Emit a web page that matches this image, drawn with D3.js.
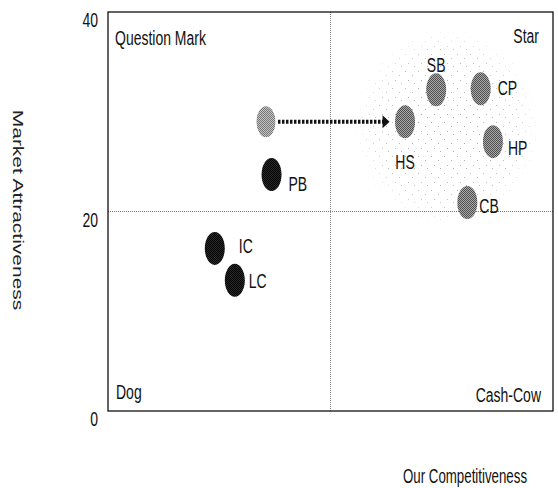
<!DOCTYPE html>
<html>
<head>
<meta charset="utf-8">
<script src="https://cdn.jsdelivr.net/npm/d3@7"></script>
<style>
  body { margin: 0; background: #fff; }
  text { font-family: "Liberation Sans", Arial, sans-serif; fill: #111; }
</style>
</head>
<body>
<script>
//==============================================================================
// DATA
//==============================================================================

const names = ['HS', 'SB', 'CP', 'HP', 'CB', 'PB', 'IC', 'LC'];
const competitiveness = [26.7, 29.5, 33.5, 34.6, 32.3, 14.7, 9.6, 11.4];
const attractiveness = [29.0, 32.2, 32.3, 27.0, 20.9, 23.7, 16.3, 13.1];
const groups = ['star', 'star', 'star', 'star', 'star', 'question', 'dog', 'dog'];

// previous position of HS (start of the arrow)
const moveFrom = [14.2, 29.0];
const moveTo = 'HS';

const quadrantLabels = ['Question Mark', 'Star', 'Dog', 'Cash-Cow'];
const yTicks = [0, 20, 40];
const xTitle = 'Our Competitiveness';
const yTitle = 'Market Attractiveness';

//==============================================================================
// PARAMETERS
//==============================================================================

const W = 558, H = 488;
const plot = { left: 108, right: 553, top: 12, bottom: 411 };
const stretch = 1.5; // glyphs in the picture are tall and narrow

const x = d3.scaleLinear().domain([0, 40]).range([plot.left, plot.right]);
const y = d3.scaleLinear().domain([0, 40]).range([plot.bottom, plot.top]);

// label placement next to each bubble
const labelPos = {
  HS: { dx: 0, dy: 47, anchor: 'middle' },
  SB: { dx: 0, dy: -18, anchor: 'middle' },
  CP: { dx: 17, dy: 6, anchor: 'start' },
  HP: { dx: 15, dy: 13, anchor: 'start' },
  CB: { dx: 12, dy: 10, anchor: 'start' },
  PB: { dx: 17, dy: 16, anchor: 'start' },
  IC: { dx: 24, dy: 5, anchor: 'start' },
  LC: { dx: 14, dy: 8, anchor: 'start' }
};

const data = names.map((n, i) => ({
  name: n, cx: competitiveness[i], cy: attractiveness[i], group: groups[i]
}));

const svg = d3.select('body').append('svg')
  .attr('width', W)
  .attr('height', H);

// stippled fills
const defs = svg.append('defs');
function checker(id, a, b) {
  const p = defs.append('pattern')
    .attr('id', id).attr('width', 2).attr('height', 2)
    .attr('patternUnits', 'userSpaceOnUse');
  p.append('rect').attr('width', 2).attr('height', 2).attr('fill', b);
  p.append('rect').attr('width', 1).attr('height', 1).attr('fill', a);
  p.append('rect').attr('x', 1).attr('y', 1).attr('width', 1).attr('height', 1).attr('fill', a);
}
checker('fillStar', '#4e4e4e', '#aaaaaa');
checker('fillOld', '#777', '#c4c4c4');
checker('fillDark', '#000', '#2a2a2a');

// faint dotted cloud round the star group
const cloud = defs.append('pattern')
  .attr('id', 'cloudDots').attr('width', 13).attr('height', 17)
  .attr('patternUnits', 'userSpaceOnUse');
[[2, 3], [9, 7], [5, 12], [11, 15]].forEach(([px, py]) => {
  cloud.append('rect').attr('x', px).attr('y', py).attr('width', 1).attr('height', 1).attr('fill', '#9a9a9a');
});

const grad = defs.append('radialGradient').attr('id', 'cloudFade');
grad.append('stop').attr('offset', '0%').attr('stop-color', '#fff').attr('stop-opacity', 0.9);
grad.append('stop').attr('offset', '75%').attr('stop-color', '#fff').attr('stop-opacity', 0.6);
grad.append('stop').attr('offset', '100%').attr('stop-color', '#fff').attr('stop-opacity', 0);
defs.append('mask').attr('id', 'cloudMask')
  .append('ellipse')
  .attr('cx', x(30.5)).attr('cy', y(28.5))
  .attr('rx', 95).attr('ry', 100)
  .attr('fill', 'url(#cloudFade)');

function stretchedText(sel, px, py, str, anchor, size) {
  return sel.append('text')
    .attr('transform', `translate(${px},${py}) scale(1,${stretch})`)
    .attr('text-anchor', anchor)
    .style('font-size', size + 'px')
    .text(str);
}

//==============================================================================
// DRAW
//==============================================================================

// cloud
svg.append('rect')
  .attr('x', plot.left).attr('y', plot.top)
  .attr('width', plot.right - plot.left).attr('height', plot.bottom - plot.top)
  .attr('fill', 'url(#cloudDots)')
  .attr('mask', 'url(#cloudMask)');

// quadrant dividers
svg.append('line')
  .attr('x1', plot.left).attr('x2', plot.right)
  .attr('y1', y(20)).attr('y2', y(20))
  .attr('stroke', '#777').attr('stroke-dasharray', '1,1');
svg.append('line')
  .attr('x1', x(20)).attr('x2', x(20))
  .attr('y1', plot.top).attr('y2', plot.bottom)
  .attr('stroke', '#888').attr('stroke-dasharray', '1,1');

// frame
svg.append('rect')
  .attr('x', plot.left).attr('y', plot.top)
  .attr('width', plot.right - plot.left).attr('height', plot.bottom - plot.top)
  .attr('fill', 'none').attr('stroke', '#111').attr('stroke-width', 1.3);

// y axis labels
const yAxis = svg.append('g')
  .attr('class', 'y axis')
  .attr('transform', `translate(${plot.left},0)`)
  .call(d3.axisLeft(y).tickValues(yTicks).tickSize(0));
yAxis.select('.domain').remove();
yAxis.selectAll('text')
  .attr('x', -10)
  .attr('dy', null)
  .attr('y', 14.5 / stretch)
  .attr('transform', `scale(1,${stretch})`)
  .style('font-family', '"Liberation Sans", Arial, sans-serif')
  .style('font-size', '14px')
  .attr('fill', '#111');

// quadrant names
stretchedText(svg, 115, 45, quadrantLabels[0], 'start', 14);
stretchedText(svg, 539, 43, quadrantLabels[1], 'end', 14);
stretchedText(svg, 116, 399, quadrantLabels[2], 'start', 14);
stretchedText(svg, 541, 402, quadrantLabels[3], 'end', 14);

// axis titles
stretchedText(svg, 465, 483, xTitle, 'middle', 13.3);
svg.append('text')
  .attr('transform', `translate(13,210) rotate(90) scale(${stretch},1)`)
  .attr('text-anchor', 'middle')
  .style('font-size', '14px')
  .style('fill', '#222')
  .text(yTitle);

// movement arrow
const target = data.find(d => d.name === moveTo);
const ay = y(moveFrom[1]);
const tip = x(target.cx) - 15.5;
svg.append('line')
  .attr('x1', x(moveFrom[0]) + 12).attr('x2', tip - 6)
  .attr('y1', ay).attr('y2', ay)
  .attr('stroke', '#111').attr('stroke-width', 4)
  .attr('stroke-dasharray', '2.5,1.5');
svg.append('path')
  .attr('d', `M${tip - 7},${ay - 6.5}L${tip},${ay}L${tip - 7},${ay + 6.5}Z`)
  .attr('fill', '#111');

// previous position bubble
svg.append('ellipse')
  .attr('cx', x(moveFrom[0])).attr('cy', y(moveFrom[1]))
  .attr('rx', 9.5).attr('ry', 15.5)
  .attr('fill', 'url(#fillOld)');

// bubbles
const fills = { star: 'url(#fillStar)', question: 'url(#fillDark)', dog: 'url(#fillDark)' };
svg.selectAll('.bubble')
  .data(data)
  .enter()
  .append('ellipse')
  .attr('class', 'bubble')
  .attr('cx', d => x(d.cx))
  .attr('cy', d => y(d.cy))
  .attr('rx', 10)
  .attr('ry', 16.5)
  .attr('fill', d => fills[d.group]);

// bubble labels
data.forEach(d => {
  const p = labelPos[d.name];
  stretchedText(svg, x(d.cx) + p.dx, y(d.cy) + p.dy, d.name, p.anchor, 14);
});
</script>
</body>
</html>
